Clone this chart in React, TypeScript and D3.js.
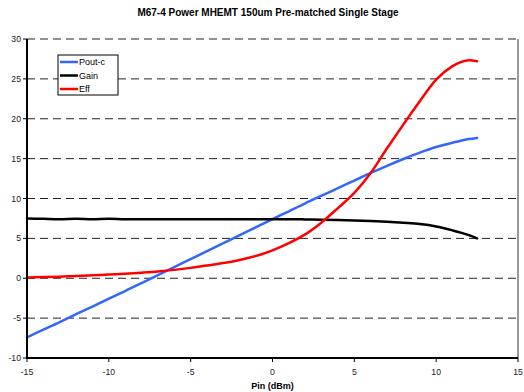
import React from "react";
import * as d3 from "d3";

const pin = [-15, -14, -13, -12, -11, -10, -9, -8, -7, -6, -5, -4, -3, -2, -1, 0, 1, 2, 3, 4, 5, 6, 7, 8, 9, 10, 11, 11.5, 12, 12.5];
const poutC = [-7.4, -6.45, -5.5, -4.5, -3.55, -2.55, -1.6, -0.6, 0.4, 1.4, 2.4, 3.4, 4.4, 5.4, 6.4, 7.4, 8.4, 9.4, 10.35, 11.3, 12.25, 13.2, 14.1, 14.95, 15.75, 16.45, 17.0, 17.25, 17.45, 17.6];
const gain = [7.5, 7.45, 7.4, 7.45, 7.4, 7.45, 7.4, 7.4, 7.4, 7.4, 7.4, 7.4, 7.4, 7.4, 7.4, 7.4, 7.4, 7.38, 7.35, 7.3, 7.25, 7.17, 7.07, 6.95, 6.8, 6.5, 6.0, 5.72, 5.4, 5.0];
const eff = [0.1, 0.15, 0.2, 0.27, 0.37, 0.47, 0.57, 0.7, 0.85, 1.05, 1.3, 1.6, 1.9, 2.3, 2.8, 3.5, 4.4, 5.5, 7.0, 8.8, 10.7, 13.2, 16.3, 19.3, 22.2, 24.9, 26.6, 27.1, 27.35, 27.2];

const xTicks = [-15, -10, -5, 0, 5, 10, 15];
const yTicks = [-10, -5, 0, 5, 10, 15, 20, 25, 30];

const seriesNames = ["Pout-c", "Gain", "Eff"];
const seriesData = [poutC, gain, eff];
const seriesColors = ["#3366ff", "#000000", "#ff0000"];

const title = "M67-4 Power MHEMT 150um Pre-matched Single Stage";
const xTitle = "Pin (dBm)";

export default function App() {
  const W = 524, H = 392;
  const x = d3.scaleLinear().domain([-15, 15]).range([27, 518]);
  const y = d3.scaleLinear().domain([-10, 30]).range([358, 39]);
  const font = "'Liberation Sans', Arial, sans-serif";

  const line = (vals: number[]) =>
    d3.line<number>()
      .x((_, i) => x(pin[i]))
      .y((v) => y(v))
      .curve(d3.curveMonotoneX)(vals) || "";

  return (
    <svg width={W} height={H} style={{ position: "absolute", left: 0, top: 0, background: "#fff" }} fontFamily={font}>
      <text x={268} y={16} textAnchor="middle" fontSize={10} fontWeight="bold" fill="#000">{title}</text>
      {yTicks.filter((t) => t > -10).map((t) => (
        <line key={"g" + t} x1={x(-15)} x2={x(15)} y1={y(t)} y2={y(t)} stroke="#222" strokeWidth={1} strokeDasharray="8,5" />
      ))}
      <line x1={x(15)} x2={x(15)} y1={y(30)} y2={y(-10)} stroke="#333" strokeWidth={1} />
      {yTicks.map((t) => (
        <g key={"y" + t}>
          <line x1={x(-15) - 4} x2={x(-15)} y1={y(t)} y2={y(t)} stroke="#000" strokeWidth={1} />
          <text x={21} y={y(t) + 3} textAnchor="end" fontSize={8.7} fill="#222">{t}</text>
        </g>
      ))}
      {xTicks.map((t) => (
        <g key={"x" + t}>
          <line x1={x(t)} x2={x(t)} y1={y(-10)} y2={y(-10) + 4} stroke="#000" strokeWidth={1} />
          <text x={x(t)} y={374.5} textAnchor="middle" fontSize={8.7} fill="#222">{t}</text>
        </g>
      ))}
      {seriesData.map((vals, i) => (
        <path key={seriesNames[i]} d={line(vals)} fill="none" stroke={seriesColors[i]} strokeWidth={2.5} strokeLinejoin="round" strokeLinecap="round" />
      ))}
      <line x1={x(-15)} x2={x(-15)} y1={y(30)} y2={y(-10) + 1} stroke="#000" strokeWidth={2} />
      <line x1={x(-15)} x2={x(15)} y1={y(-10)} y2={y(-10)} stroke="#000" strokeWidth={2} />
      <text x={272.5} y={389} textAnchor="middle" fontSize={9} fontWeight="bold" fill="#000">{xTitle}</text>
      <g>
        <rect x={58} y={55} width={60} height={40} fill="#fff" stroke="#000" strokeWidth={1} />
        {seriesNames.map((n, i) => (
          <g key={"l" + n}>
            <line x1={60} x2={78} y1={62 + i * 13.5} y2={62 + i * 13.5} stroke={seriesColors[i]} strokeWidth={2.5} />
            <text x={79} y={65 + i * 13.5} fontSize={9} fill="#000">{n}</text>
          </g>
        ))}
      </g>
    </svg>
  );
}
